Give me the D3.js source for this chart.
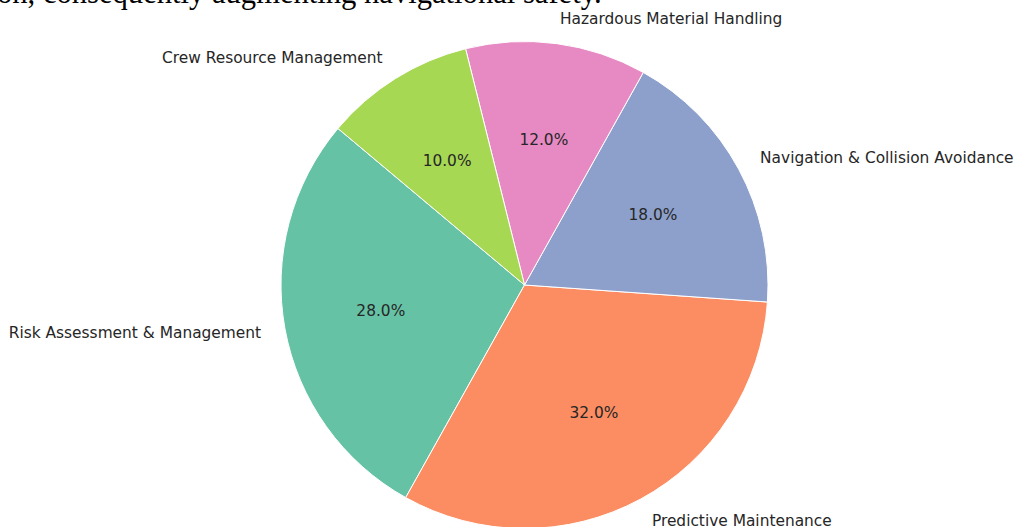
<!DOCTYPE html>
<html><head><meta charset="utf-8">
<script src="https://cdn.jsdelivr.net/npm/d3@7"></script>
<style>body{margin:0;background:#fff;overflow:hidden}svg{display:block}</style>
</head><body>
<svg id="chart" width="1016" height="527"></svg>
<script>
const categories = ["Risk Assessment & Management", "Predictive Maintenance", "Navigation & Collision Avoidance", "Hazardous Material Handling", "Crew Resource Management"];
const values = [28, 32, 18, 12, 10];
const colors = ["#66c2a5", "#fc8d62", "#8da0cb", "#e78ac3", "#a6d854"];
const titleText = "on, consequently augmenting navigational safety.";

const svg = d3.select("#chart");
const cx = 524.5, cy = 285, r = 243.5;
const startDeg = 140; // matplotlib startangle, counterclockwise
const toD3 = d => (90 - d) * Math.PI / 180;

const pie = d3.pie().sort(null).value(d => d)
  .startAngle(toD3(startDeg)).endAngle(toD3(startDeg) - 2 * Math.PI);
const arcs = pie(values);
const arc = d3.arc().innerRadius(0).outerRadius(r);

const g = svg.append("g").attr("transform", `translate(${cx},${cy})`);
g.selectAll("path").data(arcs).join("path")
  .attr("d", arc)
  .attr("fill", (d, i) => colors[i])
  .attr("stroke", "#fff").attr("stroke-width", 1);

const font = "'DejaVu Sans', sans-serif";
const fs = 15.4;
arcs.forEach((d, i) => {
  const mid = (d.startAngle + d.endAngle) / 2;
  const sx = Math.sin(mid), sy = -Math.cos(mid);
  g.append("text")
    .attr("x", 1.1 * r * sx).attr("y", 1.1 * r * sy)
    .attr("dy", "0.32em")
    .attr("text-anchor", sx < 0 ? "end" : "start")
    .attr("font-family", font).attr("font-size", fs).attr("fill", "#262626")
    .text(categories[i]);
  const total = d3.sum(values);
  g.append("text")
    .attr("x", 0.6 * r * sx).attr("y", 0.6 * r * sy)
    .attr("dy", "0.32em")
    .attr("text-anchor", "middle")
    .attr("font-family", font).attr("font-size", fs).attr("fill", "#262626")
    .text((values[i] / total * 100).toFixed(1) + "%");
});

svg.append("text")
  .attr("x", -3).attr("y", 3)
  .attr("font-family", "'Liberation Serif', 'Times New Roman', serif")
  .attr("font-size", 30.6).attr("fill", "#000")
  .text(titleText);
</script>
</body></html>
